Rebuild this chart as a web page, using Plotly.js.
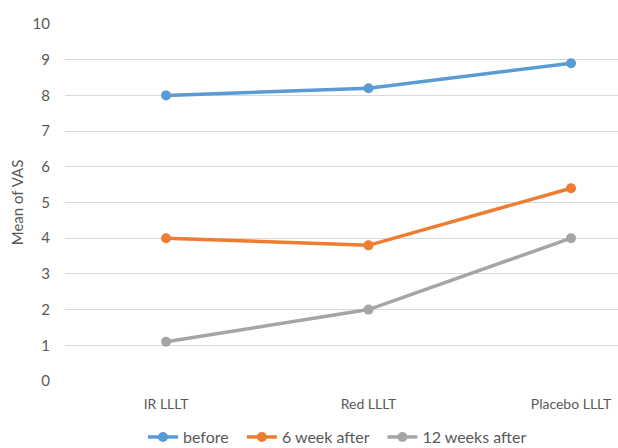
<!DOCTYPE html>
<html>
<head>
<meta charset="utf-8">
<script src="https://cdn.plot.ly/plotly-3.0.1.min.js"></script>
<style>html,body{margin:0;padding:0;background:#fff;}#chart{width:618px;height:448px;}</style>
</head>
<body>
<div id="chart"></div>
<script>
const categories = ["IR LLLT", "Red LLLT", "Placebo LLLT"];
const seriesNames = ["before", "6 week after", "12 weeks after"];
const before = [8.0, 8.2, 8.9];
const week6 = [4.0, 3.8, 5.4];
const week12 = [1.1, 2.0, 4.0];
const yTicks = [0, 1, 2, 3, 4, 5, 6, 7, 8, 9, 10];

const colors = ["#5B9BD5", "#ED7D31", "#A5A5A5"];
const values = [before, week6, week12];

const traces = values.map((v, i) => ({
  x: categories,
  y: v,
  name: seriesNames[i] + "\u00a0\u00a0",
  type: "scatter",
  mode: "lines+markers",
  line: {color: colors[i], width: 3.5},
  marker: {color: colors[i], size: 10},
  hoverinfo: "skip"
}));

const layout = {
  width: 618,
  height: 448,
  margin: {l: 65, r: 0, t: 24, b: 67, autoexpand: false},
  paper_bgcolor: "#fff",
  plot_bgcolor: "#fff",
  font: {family: "Lato, Open Sans, sans-serif", size: 14, color: "#595959"},
  showlegend: true,
  legend: {
    orientation: "h",
    x: 0.5, xanchor: "center",
    y: -0.157, yanchor: "middle",
    font: {size: 16, color: "#595959"},
    itemwidth: 30,
    tracegroupgap: 0,
    traceorder: "normal"
  },
  xaxis: {
    type: "category",
    range: [-0.499, 2.232],
    automargin: false,
    showgrid: false,
    zeroline: false,
    showline: false,
    ticks: "",
    ticklabelstandoff: 13,
    tickfont: {size: 14, color: "#595959"}
  },
  yaxis: {
    range: [0, 10],
    automargin: false,
    tickvals: yTicks,
    ticktext: yTicks.map(String),
    showgrid: true,
    gridcolor: "#D9D9D9",
    gridwidth: 1,
    zeroline: false,
    showline: false,
    ticks: "",
    ticklabelstandoff: 14,
    tickfont: {size: 15, color: "#595959"},
    title: {text: "Mean of VAS", font: {size: 15, color: "#595959"}, standoff: 5}
  }
};

Plotly.newPlot("chart", traces, layout, {staticPlot: true, displayModeBar: false});
</script>
</body>
</html>
